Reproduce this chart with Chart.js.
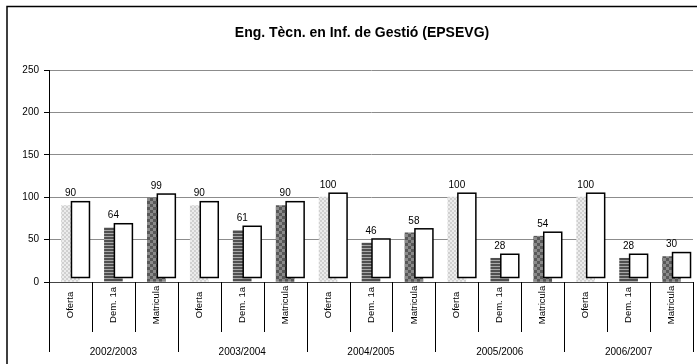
<!DOCTYPE html>
<html>
<head>
<meta charset="utf-8">
<title>Eng. Tècn. en Inf. de Gestió (EPSEVG)</title>
<script src="https://cdn.jsdelivr.net/npm/chart.js@4.4.1/dist/chart.umd.min.js"></script>
<style>
  html, body { margin: 0; padding: 0; background: #fff; }
  #wrap { width: 697px; height: 364px; position: relative; }
</style>
</head>
<body>
<div id="wrap"><canvas id="chart" width="697" height="364"></canvas></div>
<script>
// ── Data ─────────────────────────────────────────────────────────────────────
const years     = ['2002/2003', '2003/2004', '2004/2005', '2005/2006', '2006/2007'];
const measures  = ['Oferta', 'Dem. 1a', 'Matricula'];
const oferta    = [90, 90, 100, 100, 100];
const dem1a     = [64, 61, 46, 28, 28];
const matricula = [99, 90, 58, 54, 30];
const yTicks    = [0, 50, 100, 150, 200, 250];

const title = 'Eng. Tècn. en Inf. de Gestió (EPSEVG)';
const font  = "'Liberation Sans', Arial, sans-serif";

// flatten into one category per (year, measure)
const labels = [];
const values = [];
years.forEach((y, i) => {
  [oferta, dem1a, matricula].forEach((serie, j) => {
    labels.push(measures[j]);
    values.push(serie[i]);
  });
});

// ── Fill patterns ────────────────────────────────────────────────────────────
function makePattern(size, paint) {
  const c = document.createElement('canvas');
  c.width = size; c.height = size;
  paint(c.getContext('2d'));
  return document.getElementById('chart').getContext('2d').createPattern(c, 'repeat');
}

const dotted = makePattern(4, g => {
  g.fillStyle = '#ececec'; g.fillRect(0, 0, 4, 4);
  g.fillStyle = '#d0d0d0';
  g.fillRect(0, 0, 2, 2); g.fillRect(2, 2, 2, 2);
});
const striped = makePattern(3, g => {
  g.fillStyle = '#505050'; g.fillRect(0, 0, 3, 2);
  g.fillStyle = '#a8a8a8'; g.fillRect(0, 2, 3, 1);
});
const checker = makePattern(6, g => {
  g.fillStyle = '#8a8a8a'; g.fillRect(0, 0, 6, 6);
  g.fillStyle = '#585858';
  g.fillRect(0, 0, 3, 3); g.fillRect(3, 3, 3, 3);
});
const fills = [dotted, striped, checker];

// ── Extra drawing: frame, title, offset boxes, value labels, x axis ──────────
const decorations = {
  id: 'decorations',
  afterDatasetsDraw(chart) {
    const ctx  = chart.ctx;
    const meta = chart.getDatasetMeta(0);
    ctx.save();
    meta.data.forEach((bar, i) => {
      const left = bar.x - bar.width / 2 + 10;
      const top  = bar.y - 4;
      const h    = bar.base - bar.y;
      ctx.fillStyle = '#fff';
      ctx.fillRect(left, top, bar.width, h);
      ctx.strokeStyle = '#000';
      ctx.lineWidth = 1.5;
      ctx.strokeRect(left, top, bar.width, h);

      ctx.fillStyle = '#000';
      ctx.font = '10px ' + font;
      ctx.textAlign = 'center';
      ctx.textBaseline = 'bottom';
      ctx.fillText(values[i], bar.x, top - 3);
    });
    ctx.restore();
  },
  afterDraw(chart) {
    const ctx = chart.ctx;
    const xs  = chart.scales.x;
    const ca  = chart.chartArea;
    ctx.save();

    // outer frame (top and left only)
    ctx.strokeStyle = '#000';
    ctx.lineWidth = 1.5;
    ctx.beginPath();
    ctx.moveTo(7, 364); ctx.lineTo(7, 6.5); ctx.lineTo(697, 6.5);
    ctx.stroke();

    // title
    ctx.fillStyle = '#000';
    ctx.font = 'bold 14px ' + font;
    ctx.textAlign = 'center';
    ctx.textBaseline = 'middle';
    ctx.fillText(title, 362, 33);

    // category axis line
    ctx.strokeStyle = '#444';
    ctx.lineWidth = 1;
    ctx.beginPath();
    ctx.moveTo(ca.left, ca.bottom + 0.5); ctx.lineTo(ca.right, ca.bottom + 0.5);
    ctx.stroke();

    // separators between categories, longer ones between years
    const step = xs.getPixelForValue(1) - xs.getPixelForValue(0);
    ctx.strokeStyle = '#000';
    for (let i = 0; i <= labels.length; i++) {
      const x = Math.round(xs.getPixelForValue(0) - step / 2 + i * step) + 0.5;
      const end = i % 3 === 0 ? 352 : 332;
      ctx.beginPath();
      ctx.moveTo(x, ca.bottom); ctx.lineTo(x, end);
      ctx.stroke();
    }

    // rotated measure labels
    ctx.font = '9.5px ' + font;
    ctx.textAlign = 'center';
    ctx.textBaseline = 'middle';
    labels.forEach((l, i) => {
      ctx.save();
      ctx.translate(xs.getPixelForValue(i), 305);
      ctx.rotate(-Math.PI / 2);
      ctx.fillText(l, 0, 0);
      ctx.restore();
    });

    // year labels
    ctx.font = '10px ' + font;
    years.forEach((y, i) => {
      const x = (xs.getPixelForValue(i * 3) + xs.getPixelForValue(i * 3 + 2)) / 2;
      ctx.fillText(y, x, 352);
    });

    ctx.restore();
  }
};

// ── Chart ────────────────────────────────────────────────────────────────────
new Chart(document.getElementById('chart'), {
  type: 'bar',
  data: {
    labels: labels,
    datasets: [{
      data: values,
      backgroundColor: values.map((v, i) => fills[i % 3]),
      borderWidth: 0,
      barThickness: 18
    }]
  },
  options: {
    responsive: false,
    animation: false,
    devicePixelRatio: 1,
    layout: { padding: { left: 0, top: 70, right: 4, bottom: 82 } },
    plugins: {
      legend: { display: false },
      tooltip: { enabled: false },
      title: { display: false }
    },
    scales: {
      x: { display: false },
      y: {
        min: 0,
        max: 250,
        afterFit: scale => { scale.width = 49; },
        afterBuildTicks: scale => { scale.ticks = yTicks.map(v => ({ value: v })); },
        grid: {
          color: '#8c8c8c',
          lineWidth: 1,
          tickLength: 5,
          tickColor: '#000'
        },
        border: { color: '#000', width: 1 },
        ticks: {
          padding: 5,
          color: '#000',
          font: { family: font, size: 10 }
        }
      }
    }
  },
  plugins: [decorations]
});
</script>
</body>
</html>
